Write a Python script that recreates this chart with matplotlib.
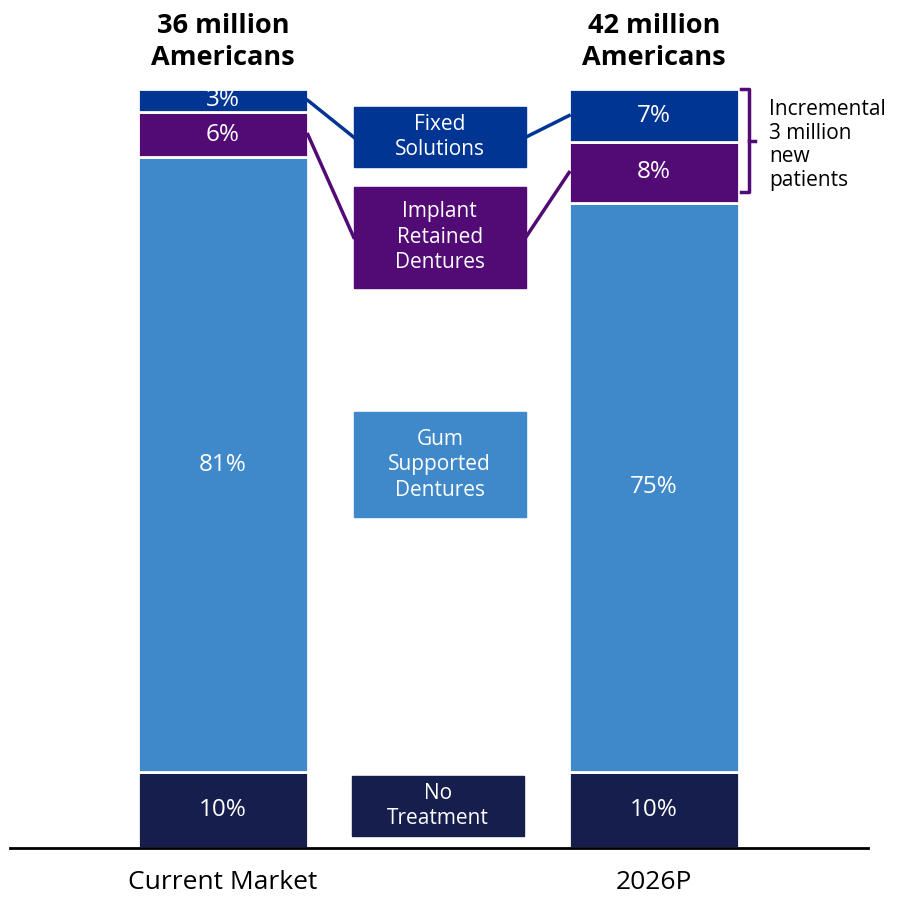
import matplotlib
matplotlib.use("Agg")
import matplotlib.pyplot as plt
from matplotlib.patches import Rectangle

plt.rcParams['font.family'] = ['Open Sans', 'DejaVu Sans']

categories = ["Current Market", "2026P"]
headers = ["36 million\nAmericans", "42 million\nAmericans"]
segments = ["No\nTreatment", "Gum\nSupported\nDentures", "Implant\nRetained\nDentures", "Fixed\nSolutions"]
values = {
    "No\nTreatment": [10, 10],
    "Gum\nSupported\nDentures": [81, 75],
    "Implant\nRetained\nDentures": [6, 8],
    "Fixed\nSolutions": [3, 7],
}
colors = ["#161E4E", "#3F88C9", "#520A75", "#003594"]
bracket_note = "Incremental\n3 million\nnew\npatients"

# legend box layout (x center, y bottom, y top) in data units
box_layout = {
    "Fixed\nSolutions": (0.503, 89.7, 97.6),
    "Implant\nRetained\nDentures": (0.503, 73.8, 87.1),
    "Gum\nSupported\nDentures": (0.503, 43.6, 57.4),
    "No\nTreatment": (0.498, 1.6, 9.5),
}
box_w = 0.399
bar_w = 0.394

fig = plt.figure(figsize=(9.04, 9.02), dpi=100)
ax = fig.add_axes([10/904, 54/902, 858/904, 759/902])
ax.set_xlim(-0.494, 1.4965)
ax.set_ylim(0, 100)
for s in ["top", "right", "left"]:
    ax.spines[s].set_visible(False)
ax.spines["bottom"].set_linewidth(2)
ax.spines["bottom"].set_color("black")
ax.set_yticks([])
ax.set_xticks([0, 1])
ax.set_xticklabels(categories, fontsize=19)
ax.tick_params(axis="x", length=0, pad=16)

xs = [0, 1]
bottoms = [0, 0]
mids = {}
for seg, col in zip(segments, colors):
    vals = values[seg]
    ax.bar(xs, vals, bar_w, bottom=bottoms, color=col, edgecolor="white", linewidth=2)
    mids[seg] = []
    for i, v in enumerate(vals):
        m = bottoms[i] + v / 2
        mids[seg].append(m)
        ax.text(xs[i], m, f"{v}%", ha="center", va="center", color="white", fontsize=17.5)
    bottoms = [b + v for b, v in zip(bottoms, vals)]

# legend boxes
for seg, col in zip(segments, colors):
    xc, y0, y1 = box_layout[seg]
    ax.add_patch(Rectangle((xc - box_w / 2, y0), box_w, y1 - y0, color=col, zorder=3))
    ax.text(xc, (y0 + y1) / 2, seg, ha="center", va="center", color="white",
            fontsize=15, linespacing=1.28, zorder=4)

# connectors for top two segments
for seg, col in zip(segments[2:], colors[2:]):
    xc, y0, y1 = box_layout[seg]
    ym = (y0 + y1) / 2
    ax.plot([bar_w / 2, xc - box_w / 2], [mids[seg][0], ym], color=col, lw=2.5, zorder=2)
    ax.plot([xc + box_w / 2, 1 - bar_w / 2], [ym, mids[seg][1]], color=col, lw=2.5, zorder=2)

# headers
for x, h in zip(xs, headers):
    ax.text(x, 106.2, h, ha="center", va="center", fontsize=19.5, fontweight="bold",
            linespacing=1.3, clip_on=False)

# bracket
top = 100
bot = 86.4
bx0 = 1 + bar_w / 2 + 0.005
bx1 = bx0 + 0.018
ax.plot([bx0, bx1, bx1, bx0], [top, top, bot, bot], color="#520A75", lw=2.5, clip_on=False)
ax.plot([bx1, bx1 + 0.015], [(top + bot) / 2, (top + bot) / 2], color="#520A75", lw=2.5, clip_on=False)
ax.text(bx1 + 0.047, top - 1.3, bracket_note, ha="left", va="top", fontsize=15,
        linespacing=1.17, clip_on=False)

fig.savefig("out.png", dpi=100)
